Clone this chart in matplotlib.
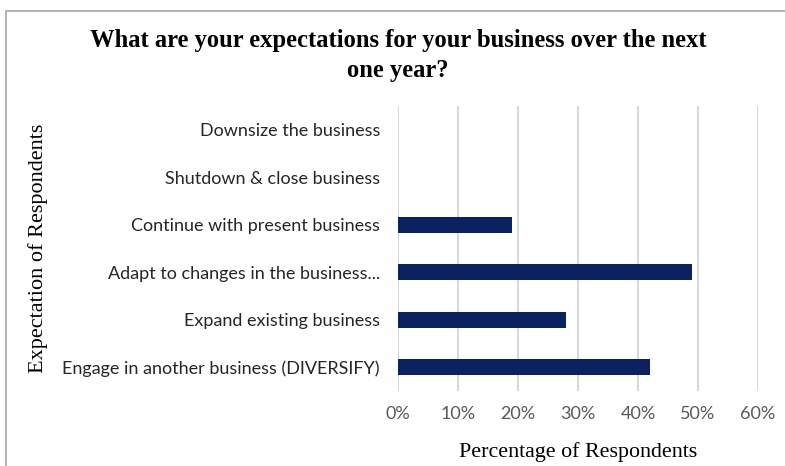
import numpy as np
import matplotlib
matplotlib.use('Agg')
import matplotlib.pyplot as plt
from matplotlib.patches import Rectangle

# Survey responses, bottom to top as drawn
categories = ['Engage in another business (DIVERSIFY)',
              'Expand existing business',
              'Adapt to changes in the business...',
              'Continue with present business',
              'Shutdown & close business',
              'Downsize the business']
percent = [42, 28, 49, 19, 0, 0]
xticks = [0, 10, 20, 30, 40, 50, 60]

bar_color = '#0c2160'
grid_color = '#d9d9d9'
tick_color = '#595959'

fig = plt.figure(figsize=(7.85, 4.66), dpi=100)
ax = fig.add_axes([0.507, 0.161, 0.4586, 0.6115])

y = np.arange(len(categories))
ax.barh(y, percent, height=0.34, color=bar_color, zorder=3)

ax.set_xlim(0, 60)
ax.set_ylim(-0.5, len(categories) - 0.5)
ax.set_xticks(xticks)
ax.set_xticklabels([f'{v}%' for v in xticks], fontsize=13, family='Lato', color=tick_color)
ax.set_yticks(y)
ax.set_yticklabels(categories, fontsize=13, family='Lato', color='#262626')
ax.tick_params(length=0, axis='x', pad=11)
ax.tick_params(length=0, axis='y', pad=13)
ax.xaxis.grid(True, color=grid_color, linewidth=1.5, zorder=0)
for s in ax.spines.values():
    s.set_visible(False)

ax.set_xlabel('Percentage of Respondents', fontsize=15.8, family='Liberation Serif', labelpad=14)
fig.text(0.048, 0.468, 'Expectation of Respondents', rotation=90, ha='center', va='center',
         fontsize=16, family='Liberation Serif')

fig.text(0.507, 0.881, 'What are your expectations for your business over the next\none year?',
         ha='center', va='center', fontsize=17.7, family='Liberation Serif', weight='bold',
         linespacing=1.42)

# outer chart frame
fig.patches.append(Rectangle((6 / 785, -0.05), 1.2, 1 - 11 / 466 + 0.05,
                             transform=fig.transFigure, fill=False,
                             edgecolor='#a6a6a6', linewidth=1.2))

fig.savefig('out.png', dpi=100)
